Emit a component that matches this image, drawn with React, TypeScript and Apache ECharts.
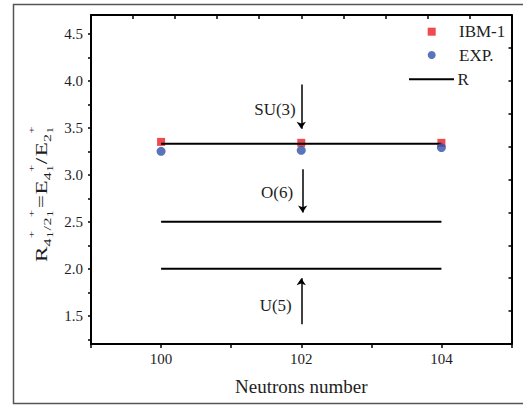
import React, { useEffect, useRef } from "react";
import * as echarts from "echarts";

// ---- data ----
const neutrons = [100, 102, 104];
const ibm1 = [3.35, 3.34, 3.34];
const expValues = [3.25, 3.26, 3.29];
const rRatio = [3.33, 3.33];
const levelLineX = [100, 104];
const o6Level = [2.5, 2.5];
const u5Level = [2.0, 2.0];

const arrowNames = ["SU(3)", "O(6)", "U(5)"];
const arrowX = [102, 102.02, 102];
const arrowFrom = [3.96, 3.06, 1.41];
const arrowTo = [3.49, 2.6, 1.9];
const arrowLabelY = [3.69, 2.81, 1.61];

const xLabelValues = [100, 102, 104];
const yLabelValues = [1.5, 2.0, 2.5, 3.0, 3.5, 4.0, 4.5];
const yTickValues = [1.25, 1.5, 1.75, 2.0, 2.25, 2.5, 2.75, 3.0, 3.25, 3.5, 3.75, 4.0, 4.25, 4.5];
const topTickValues = [99.6, 100.2, 100.8, 101.4, 102.0, 102.6, 103.2, 103.8, 104.4];
const rightTickValues = [1.55, 1.9, 2.25, 2.6, 2.95, 3.3, 3.65, 4.0, 4.35];

const FONT = "'Liberation Serif','Times New Roman',serif";
const TXT = "#1e1e1e";

// y-axis title pieces: [text, offset along text, baseline offset, font size]
const titleParts: [string, number, number, number][] = [
  ["R", 0, 0, 16],
  ["4", 10.7, 4.3, 11],
  ["+", 16.4, -13, 9],
  ["1", 16.6, 6, 9],
  ["/", 21.8, 4.3, 11],
  ["2", 25.2, 4.3, 11],
  ["+", 30.9, -13, 9],
  ["1", 31.1, 6, 9],
  ["=", 37, 0, 16],
  ["E", 46.5, 0, 16],
  ["4", 56.3, 4.3, 11],
  ["+", 62, -13, 9],
  ["1", 62.2, 6, 9],
  ["/", 67.5, 0, 16],
  ["E", 73, 0, 16],
  ["2", 82.8, 4.3, 11],
  ["+", 88.5, -13, 9],
  ["1", 88.7, 6, 9],
];

export default function App() {
  const ref = useRef<HTMLDivElement>(null);
  useEffect(() => {
    if (!ref.current) return;
    const chart = echarts.init(ref.current, undefined, { renderer: "svg" });
    const axisLine = { show: true, lineStyle: { color: "#000", width: 2 } };
    const legendText = { fontFamily: FONT, fontSize: 17, color: TXT, lineHeight: 17 };
    const option: any = {
      animation: false,
      backgroundColor: "#fff",
      grid: { left: 91, right: 11.5, top: 15, bottom: 61, containLabel: false },
      legend: [
        {
          orient: "vertical",
          left: 427.7,
          top: 23.2,
          padding: 0,
          itemWidth: 8,
          itemHeight: 8,
          itemGap: 6.3,
          data: [
            { name: "IBM-1", icon: "rect" },
            { name: "EXP.", icon: "circle" },
          ],
          textStyle: { ...legendText, padding: [0, 0, 0, 18.3] },
        },
        {
          orient: "vertical",
          left: 409,
          top: 70.8,
          padding: 0,
          itemWidth: 45,
          itemHeight: 2,
          data: [{ name: "R", icon: "rect" }],
          textStyle: { ...legendText, padding: [0, 0, 0, -1.5] },
        },
      ],
      xAxis: [
        {
          type: "value",
          position: "bottom",
          min: 99,
          max: 105,
          interval: 1,
          axisLine,
          axisTick: { show: true, inside: false, length: 4, lineStyle: { color: "#000", width: 1.5 } },
          axisLabel: {
            customValues: xLabelValues,
            formatter: (v: number) => String(v),
            fontFamily: FONT,
            fontSize: 15,
            color: TXT,
            margin: 7,
          },
          splitLine: { show: false },
          name: "Neutrons number",
          nameLocation: "middle",
          nameGap: 33,
          nameTextStyle: { fontFamily: FONT, fontSize: 19, color: TXT },
        },
        {
          type: "value",
          position: "top",
          min: 99,
          max: 105,
          axisLine,
          axisTick: { show: true, inside: true, length: 4, customValues: topTickValues, lineStyle: { color: "#000", width: 1.5 } },
          axisLabel: { show: false },
          splitLine: { show: false },
        },
      ],
      yAxis: [
        {
          type: "value",
          position: "left",
          min: 1.2,
          max: 4.7,
          axisLine,
          axisTick: { show: true, inside: false, length: 3, customValues: yTickValues, lineStyle: { color: "#000", width: 1.5 } },
          axisLabel: {
            customValues: yLabelValues,
            formatter: (v: number) => v.toFixed(1),
            fontFamily: FONT,
            fontSize: 15,
            color: TXT,
            margin: 8,
          },
          splitLine: { show: false },
        },
        {
          type: "value",
          position: "right",
          min: 1.2,
          max: 4.7,
          axisLine,
          axisTick: { show: true, inside: true, length: 3, customValues: rightTickValues, lineStyle: { color: "#000", width: 1.5 } },
          axisLabel: { show: false },
          splitLine: { show: false },
        },
      ],
      series: [
        {
          name: "IBM-1",
          type: "scatter",
          symbol: "rect",
          symbolSize: 8,
          itemStyle: { color: "#ec1c24" },
          data: neutrons.map((n, i) => [n, ibm1[i]]),
          z: 2,
        },
        {
          name: "R",
          type: "line",
          symbol: "none",
          showSymbol: false,
          lineStyle: { color: "#000", width: 2 },
          itemStyle: { color: "#000" },
          data: levelLineX.map((n, i) => [n, rRatio[i]]),
          z: 3,
        },
        {
          name: "EXP.",
          type: "scatter",
          symbol: "circle",
          symbolSize: 9,
          itemStyle: { color: "#2f51a8" },
          data: neutrons.map((n, i) => [n, expValues[i]]),
          z: 4,
        },
        {
          name: "O6 limit",
          type: "line",
          symbol: "none",
          showSymbol: false,
          lineStyle: { color: "#000", width: 2 },
          data: levelLineX.map((n, i) => [n, o6Level[i]]),
        },
        {
          name: "U5 limit",
          type: "line",
          symbol: "none",
          showSymbol: false,
          lineStyle: { color: "#000", width: 2 },
          data: levelLineX.map((n, i) => [n, u5Level[i]]),
        },
        {
          name: "arrows",
          type: "lines",
          coordinateSystem: "cartesian2d",
          symbol: ["none", "arrow"],
          symbolSize: 7,
          lineStyle: { color: "#000", width: 1.5, opacity: 1 },
          data: arrowNames.map((_, i) => ({ coords: [[arrowX[i], arrowFrom[i]], [arrowX[i], arrowTo[i]]] })),
        },
        {
          name: "labels",
          type: "scatter",
          symbolSize: 1,
          itemStyle: { color: "rgba(0,0,0,0)" },
          silent: true,
          data: arrowNames.map((nm, i) => ({
            value: [arrowX[i], arrowLabelY[i]],
            name: nm,
            label: { distance: i === 0 ? 5 : 9 },
          })),
          label: {
            show: true,
            position: "left",
            formatter: (p: any) => p.name,
            fontFamily: FONT,
            fontSize: 17,
            color: TXT,
            opacity: 1,
          },
        },
      ],
      graphic: [
        {
          type: "rect",
          shape: { x: 13.5, y: 4.5, width: 520, height: 399 },
          style: { fill: "none", stroke: "#555", lineWidth: 1.5 },
          silent: true,
        },
        {
          type: "group",
          x: 46.7,
          y: 262,
          rotation: Math.PI / 2,
          scaleX: 1.45,
          children: titleParts.map(([t, ox, dy, sz]) => ({
            type: "text",
            x: ox,
            y: dy - 0.34 * sz,
            style: {
              text: t,
              font: `${sz}px ${FONT}`,
              fill: TXT,
              textAlign: "left",
              align: "left",
              textVerticalAlign: "middle",
              verticalAlign: "middle",
            },
          })),
        },
      ],
    };
    chart.setOption(option);
    return () => chart.dispose();
  }, []);
  return (
    <div
      ref={ref}
      style={{ position: "fixed", left: 0, top: 0, width: 523, height: 405, background: "#fff" }}
    />
  );
}
